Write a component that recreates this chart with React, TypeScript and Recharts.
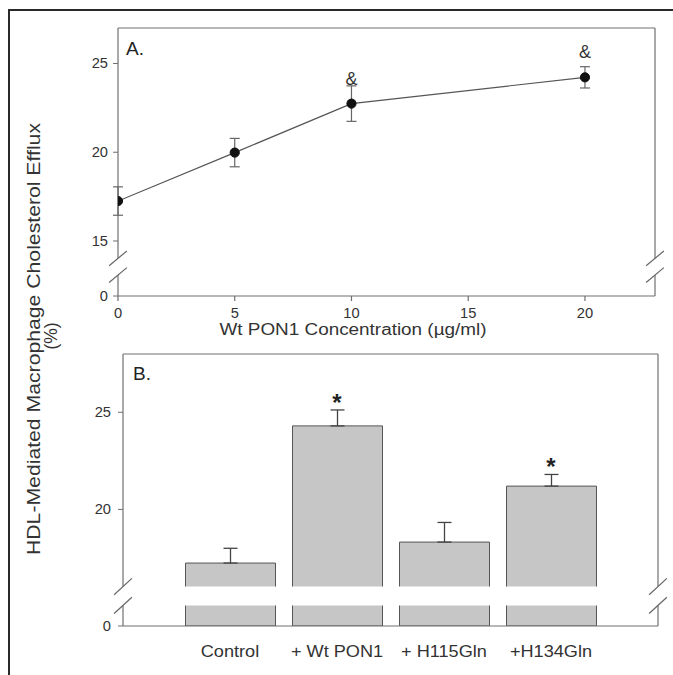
import React from 'react';
import {
  ComposedChart, Line, Bar, Scatter, XAxis, YAxis, ErrorBar, ReferenceLine, ReferenceArea,
} from 'recharts';

// ---------- Panel A data ----------
const aConc = [0, 5, 10, 20];
const aMean = [17.25, 19.98, 22.74, 24.22];
const aErr = [0.8, 0.8, 1.0, 0.6];
const aMarks = ['', '', '&', '&'];
const aTicksX = [0, 5, 10, 15, 20];

// ---------- Panel B data ----------
const bCats = ['Control', '+ Wt PON1', '+ H115Gln', '+H134Gln'];
const bMean = [17.24, 24.3, 18.32, 21.2];
const bErr = [0.76, 0.82, 1.01, 0.6];
const bMarks = ['', '*', '', '*'];

// ---------- broken-axis scale constants ----------
// Panel A: the value 0 is drawn at A_ZERO; axis break between A_BRK_LO and A_BRK_HI
const A_ZERO = 11.9;
const A_BRK_LO = 13.08;
const A_BRK_HI = 14.02;
const A_TOP = 27;
const A_XMAX = 23;
const aTicksY = [A_ZERO, 15, 20, 25];

// Panel B: the value 0 is drawn at B_ZERO; white break band between B_GAP_LO and B_GAP_HI
const B_ZERO = 14;
const B_GAP_LO = 15.06;
const B_GAP_HI = 16.03;
const B_TOP = 28;
const B_XMAX = 5;
const bTicksY = [B_ZERO, 20, 25];

const aData = aConc.map((c, i) => ({
  conc: c,
  mean: aMean[i],
  err: aErr[i],
  mark: aMarks[i],
}));

const bData = bCats.map((name, i) => ({
  pos: i + 1,
  name,
  mean: bMean[i],
  err: [0, bErr[i]],
  mark: bMarks[i],
  markY: bMean[i] + bErr[i],
}));

const FONT = "'Liberation Sans', Arial, Helvetica, sans-serif";
const TXT = '#333';
const FRAME = '#707070';

const fmtY = (zero: number) => (v: number) => (v === zero ? '0' : String(v));

const makeTick = (fmt: (v: any) => string, fontSize: number, dy: string, sx: number) => (props: any) => {
  const { x, y, payload, textAnchor } = props;
  return (
    <g transform={`translate(${x},${y})`}>
      <text
        x={0}
        y={0}
        dy={dy}
        textAnchor={textAnchor}
        fontSize={fontSize}
        fontFamily={FONT}
        fill={TXT}
        transform={`scale(${sx},1)`}
      >
        {fmt(payload.value)}
      </text>
    </g>
  );
};

const ampShape = (props: any) => {
  const { cx, cy, payload } = props;
  if (!payload || !payload.mark) return <g />;
  return (
    <text x={cx} y={cy - 19} textAnchor="middle" fontSize={18} fontFamily={FONT} fill={TXT}>
      {payload.mark}
    </text>
  );
};

const starShape = (props: any) => {
  const { cx, cy, payload } = props;
  if (!payload || !payload.mark) return <g />;
  return (
    <text x={cx} y={cy + 1} textAnchor="middle" fontSize={24} fontWeight="bold" fontFamily={FONT} fill="#222">
      {payload.mark}
    </text>
  );
};

const dotShape = (props: any) => {
  const { cx, cy } = props;
  return <circle cx={cx} cy={cy} r={4.6} fill="#111" stroke="#111" />;
};

function PanelA() {
  return (
    <ComposedChart
      width={673}
      height={340}
      data={aData}
      margin={{ top: 28, right: 18, bottom: 14, left: 58 }}
    >
      <XAxis
        dataKey="conc"
        type="number"
        domain={[0, A_XMAX]}
        ticks={aTicksX}
        allowDataOverflow
        height={30}
        stroke={FRAME}
        strokeWidth={1.2}
        tickSize={5}
        tickMargin={7}
        tick={makeTick((v) => String(v), 14, '0.71em', 1.05)}
      />
      <YAxis
        yAxisId="l"
        type="number"
        domain={[A_ZERO, A_TOP]}
        ticks={aTicksY}
        allowDataOverflow
        width={60}
        axisLine={false}
        tickLine={{ stroke: FRAME }}
        tickSize={5}
        tickMargin={5}
        tick={makeTick(fmtY(A_ZERO), 14, '0.355em', 1.05)}
      />
      <YAxis
        yAxisId="r"
        orientation="right"
        type="number"
        domain={[A_ZERO, A_TOP]}
        ticks={aTicksY}
        allowDataOverflow
        width={0}
        axisLine={false}
        tickLine={{ stroke: FRAME }}
        tickSize={4}
        tick={false}
      />
      {/* plot frame with broken vertical axes */}
      <ReferenceLine yAxisId="l" segment={[{ x: 0, y: A_BRK_HI }, { x: 0, y: A_TOP }]} stroke={FRAME} strokeWidth={1.2} ifOverflow="visible" />
      <ReferenceLine yAxisId="l" segment={[{ x: 0, y: A_ZERO }, { x: 0, y: A_BRK_LO }]} stroke={FRAME} strokeWidth={1.2} ifOverflow="visible" />
      <ReferenceLine yAxisId="l" segment={[{ x: A_XMAX, y: A_BRK_HI }, { x: A_XMAX, y: A_TOP }]} stroke={FRAME} strokeWidth={1.2} ifOverflow="visible" />
      <ReferenceLine yAxisId="l" segment={[{ x: A_XMAX, y: A_ZERO }, { x: A_XMAX, y: A_BRK_LO }]} stroke={FRAME} strokeWidth={1.2} ifOverflow="visible" />
      <ReferenceLine yAxisId="l" segment={[{ x: 0, y: A_TOP }, { x: A_XMAX, y: A_TOP }]} stroke={FRAME} strokeWidth={1.2} ifOverflow="visible" />
      {/* break slashes */}
      {[0, A_XMAX].map((xx) =>
        [A_BRK_LO, A_BRK_HI].map((yy) => (
          <ReferenceLine
            key={`s${xx}-${yy}`}
            yAxisId="l"
            segment={[{ x: xx - 0.38, y: yy - 0.42 }, { x: xx + 0.38, y: yy + 0.42 }]}
            stroke="#666"
            strokeWidth={1.2}
            ifOverflow="visible"
          />
        ))
      )}
      <Line
        yAxisId="l"
        dataKey="mean"
        stroke="#555"
        strokeWidth={1.2}
        dot={dotShape}
        activeDot={false}
        isAnimationActive={false}
      >
        <ErrorBar dataKey="err" width={5} stroke="#666" strokeWidth={1.2} />
      </Line>
      <Scatter yAxisId="l" dataKey="mean" shape={ampShape} isAnimationActive={false} />
    </ComposedChart>
  );
}

function PanelB() {
  return (
    <ComposedChart
      width={673}
      height={345}
      data={bData}
      margin={{ top: 24, right: 15, bottom: 19, left: 63 }}
    >
      <XAxis
        dataKey="pos"
        type="number"
        domain={[0, B_XMAX]}
        ticks={[1, 2, 3, 4]}
        allowDataOverflow
        height={30}
        stroke={FRAME}
        strokeWidth={1.2}
        tickLine={false}
        tickSize={0}
        tickMargin={19}
        tick={makeTick((v) => bCats[v - 1] ?? '', 16.5, '0.71em', 1.1)}
      />
      <YAxis
        yAxisId="l"
        type="number"
        domain={[B_ZERO, B_TOP]}
        ticks={bTicksY}
        allowDataOverflow
        width={60}
        axisLine={false}
        tickLine={{ stroke: FRAME }}
        tickSize={5}
        tickMargin={7}
        tick={makeTick(fmtY(B_ZERO), 14, '0.355em', 1.05)}
      />
      <YAxis
        yAxisId="r"
        orientation="right"
        type="number"
        domain={[B_ZERO, B_TOP]}
        ticks={bTicksY}
        allowDataOverflow
        width={0}
        axisLine={false}
        tickLine={{ stroke: FRAME }}
        tickSize={5}
        tick={false}
      />
      <Bar
        yAxisId="l"
        dataKey="mean"
        barSize={90}
        fill="#c6c6c6"
        stroke="#555"
        strokeWidth={1}
        isAnimationActive={false}
      >
        <ErrorBar dataKey="err" width={7} stroke="#444" strokeWidth={1.3} />
      </Bar>
      <ReferenceArea
        yAxisId="l"
        x1={0.3}
        x2={4.7}
        y1={B_GAP_LO}
        y2={B_GAP_HI}
        fill="#ffffff"
        fillOpacity={1}
        stroke="none"
        ifOverflow="visible"
        {...({ zIndex: 350 } as any)}
      />
      {/* plot frame with broken vertical axes */}
      <ReferenceLine yAxisId="l" segment={[{ x: 0, y: B_GAP_HI }, { x: 0, y: B_TOP }]} stroke={FRAME} strokeWidth={1.2} ifOverflow="visible" />
      <ReferenceLine yAxisId="l" segment={[{ x: 0, y: B_ZERO }, { x: 0, y: B_GAP_LO }]} stroke={FRAME} strokeWidth={1.2} ifOverflow="visible" />
      <ReferenceLine yAxisId="l" segment={[{ x: B_XMAX, y: B_GAP_HI }, { x: B_XMAX, y: B_TOP }]} stroke={FRAME} strokeWidth={1.2} ifOverflow="visible" />
      <ReferenceLine yAxisId="l" segment={[{ x: B_XMAX, y: B_ZERO }, { x: B_XMAX, y: B_GAP_LO }]} stroke={FRAME} strokeWidth={1.2} ifOverflow="visible" />
      <ReferenceLine yAxisId="l" segment={[{ x: 0, y: B_TOP }, { x: B_XMAX, y: B_TOP }]} stroke={FRAME} strokeWidth={1.2} ifOverflow="visible" />
      {[0, B_XMAX].map((xx) =>
        [B_GAP_LO, B_GAP_HI].map((yy) => (
          <ReferenceLine
            key={`s${xx}-${yy}`}
            yAxisId="l"
            segment={[{ x: xx - 0.083, y: yy - 0.42 }, { x: xx + 0.083, y: yy + 0.42 }]}
            stroke="#666"
            strokeWidth={1.2}
            ifOverflow="visible"
          />
        ))
      )}
      <Scatter yAxisId="l" dataKey="markY" shape={starShape} isAnimationActive={false} />
    </ComposedChart>
  );
}

export default function App() {
  return (
    <div style={{ position: 'absolute', left: 0, top: 0, width: 673, height: 675, background: '#fff', overflow: 'hidden' }}>
      <div
        style={{
          position: 'absolute',
          left: 8,
          top: 9,
          width: 700,
          height: 700,
          borderLeft: '2px solid #2a2a2a',
          borderTop: '2px solid #2a2a2a',
          boxSizing: 'border-box',
        }}
      />
      <div style={{ position: 'absolute', left: 0, top: 0 }}>
        <PanelA />
      </div>
      <div style={{ position: 'absolute', left: 0, top: 330 }}>
        <PanelB />
      </div>
      <svg
        width={673}
        height={675}
        style={{ position: 'absolute', left: 0, top: 0, pointerEvents: 'none' }}
        fontFamily={FONT}
      >
        <text x={126} y={55} fontSize={19} fill="#222">A.</text>
        <text x={133} y={380} fontSize={19} fill="#222">B.</text>
        <text x={353} y={335} fontSize={16} fill={TXT} textAnchor="middle" textLength={267} lengthAdjust="spacingAndGlyphs">
          Wt PON1 Concentration (µg/ml)
        </text>
        <g transform="translate(40,339) rotate(-90)">
          <text x={0} y={0} fontSize={17.5} fill={TXT} textAnchor="middle" textLength={432} lengthAdjust="spacingAndGlyphs">
            HDL-Mediated Macrophage Cholesterol Efflux
          </text>
        </g>
        <g transform="translate(57,336) rotate(-90)">
          <text x={0} y={0} fontSize={17.5} fill={TXT} textAnchor="middle">
            (%)
          </text>
        </g>
      </svg>
    </div>
  );
}
